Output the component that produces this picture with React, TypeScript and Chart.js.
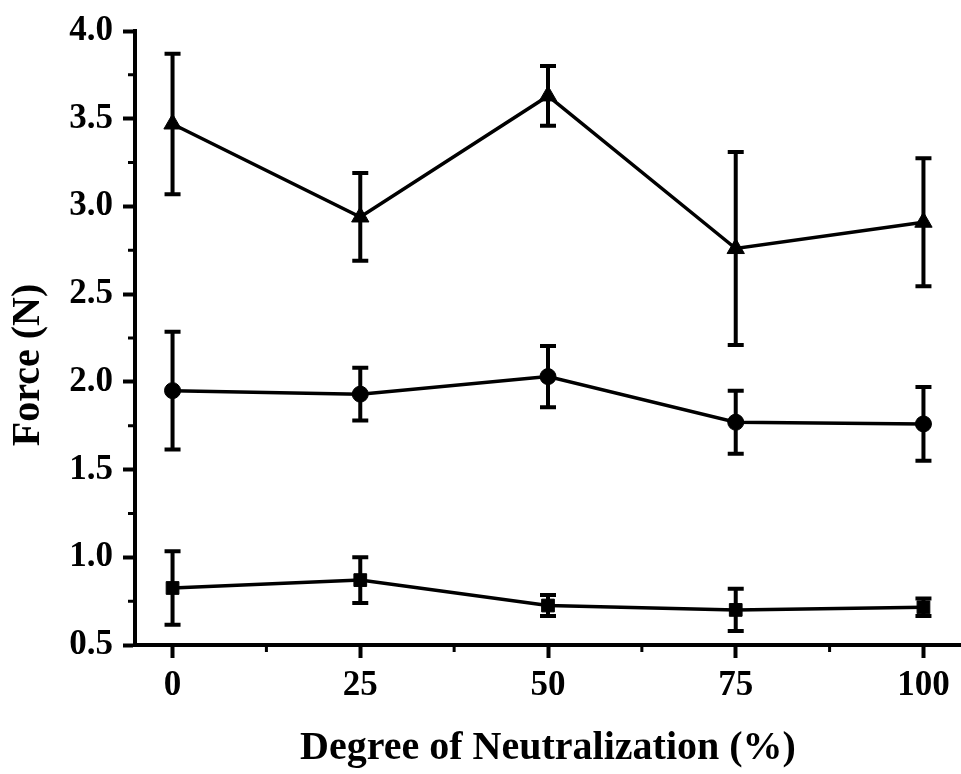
import React, { useEffect, useRef } from "react";
import { Chart, registerables } from "chart.js";

Chart.register(...registerables);

const xValues = [0, 25, 50, 75, 100];
const triangleMean = [3.47, 2.94, 3.63, 2.76, 2.91];
const triangleErr = [0.4, 0.25, 0.17, 0.55, 0.365];
const circleMean = [1.95, 1.93, 2.03, 1.77, 1.76];
const circleErr = [0.335, 0.15, 0.175, 0.18, 0.21];
const squareMean = [0.825, 0.87, 0.725, 0.7, 0.715];
const squareErr = [0.21, 0.13, 0.06, 0.12, 0.05];

const xTicks = [0, 25, 50, 75, 100];
const yTicks = [0.5, 1.0, 1.5, 2.0, 2.5, 3.0, 3.5, 4.0];
const xMinorTicks = [12.5, 37.5, 62.5, 87.5];
const yMinorTicks = [0.75, 1.25, 1.75, 2.25, 2.75, 3.25, 3.75];

const xTitle = "Degree of Neutralization (%)";
const yTitle = "Force (N)";

const FONT = "'Liberation Serif', 'Times New Roman', serif";

const seriesList = [
  { mean: triangleMean, err: triangleErr, style: "triangle", radius: 10 },
  { mean: circleMean, err: circleErr, style: "circle", radius: 8 },
  { mean: squareMean, err: squareErr, style: "rect", radius: 9 },
];

const errorBarPlugin = {
  id: "errorBars",
  beforeDatasetsDraw(chart: any) {
    const { ctx, scales } = chart;
    const xs = scales.x;
    const ys = scales.y;
    ctx.save();
    ctx.strokeStyle = "#000";
    ctx.lineWidth = 4;
    ctx.lineCap = "butt";
    seriesList.forEach((s) => {
      xValues.forEach((xv, i) => {
        const px = xs.getPixelForValue(xv);
        const top = ys.getPixelForValue(s.mean[i] + s.err[i]);
        const bot = ys.getPixelForValue(s.mean[i] - s.err[i]);
        ctx.beginPath();
        ctx.moveTo(px, top);
        ctx.lineTo(px, bot);
        ctx.moveTo(px - 8, top);
        ctx.lineTo(px + 8, top);
        ctx.moveTo(px - 8, bot);
        ctx.lineTo(px + 8, bot);
        ctx.stroke();
      });
    });
    ctx.restore();
  },
  afterDraw(chart: any) {
    const { ctx, scales, chartArea } = chart;
    ctx.save();
    ctx.strokeStyle = "#000";
    ctx.lineWidth = 3;
    ctx.beginPath();
    yMinorTicks.forEach((v) => {
      const py = scales.y.getPixelForValue(v);
      ctx.moveTo(chartArea.left - 7, py);
      ctx.lineTo(chartArea.left, py);
    });
    xMinorTicks.forEach((v) => {
      const px = scales.x.getPixelForValue(v);
      ctx.moveTo(px, chartArea.bottom);
      ctx.lineTo(px, chartArea.bottom + 7);
    });
    ctx.stroke();
    // y axis title
    ctx.translate(28.5, 365);
    ctx.rotate(-Math.PI / 2);
    ctx.fillStyle = "#000";
    ctx.font = `bold 40px ${FONT}`;
    ctx.textAlign = "center";
    ctx.textBaseline = "middle";
    ctx.fillText(yTitle, 0, 0);
    ctx.restore();
  },
};

export default function App() {
  const ref = useRef<HTMLCanvasElement>(null);

  useEffect(() => {
    if (!ref.current) return;
    const chart = new Chart(ref.current, {
      type: "line",
      data: {
        datasets: seriesList.map((s) => ({
          data: xValues.map((x, i) => ({ x, y: s.mean[i] })),
          borderColor: "#000",
          backgroundColor: "#000",
          borderWidth: 3.5,
          pointStyle: s.style as any,
          pointRadius: s.radius,
          pointBackgroundColor: "#000",
          pointBorderColor: "#000",
          pointBorderWidth: 1,
          tension: 0,
          clip: false as any,
        })),
      },
      options: {
        animation: false,
        responsive: false,
        maintainAspectRatio: false,
        layout: { autoPadding: false, padding: { top: 31, right: 0, left: 0, bottom: 0 } },
        plugins: {
          legend: { display: false },
          tooltip: { enabled: false },
        },
        scales: {
          x: {
            type: "linear",
            min: -5,
            max: 105,
            afterBuildTicks: (scale: any) => {
              scale.ticks = xTicks.map((v) => ({ value: v }));
            },
            afterFit: (scale: any) => {
              scale.height = 129;
              scale.paddingRight = 0;
              scale.paddingLeft = 0;
            },
            grid: {
              drawOnChartArea: false,
              drawTicks: true,
              tickLength: 13,
              tickWidth: 4,
              tickColor: "#000",
            },
            border: { display: true, color: "#000", width: 4 },
            ticks: {
              color: "#000",
              padding: 7,
              font: { family: FONT, size: 35, weight: "bold" },
              callback: (v: any) => String(v),
            },
            title: {
              display: true,
              text: xTitle,
              color: "#000",
              font: { family: FONT, size: 40, weight: "bold" },
              padding: { top: 0, bottom: 1 },
            },
          },
          y: {
            type: "linear",
            min: 0.5,
            max: 4.0,
            afterBuildTicks: (scale: any) => {
              scale.ticks = yTicks.map((v) => ({ value: v }));
            },
            afterFit: (scale: any) => {
              scale.width = 135;
            },
            grid: {
              drawOnChartArea: false,
              drawTicks: true,
              tickLength: 12,
              tickWidth: 4,
              tickColor: "#000",
            },
            border: { display: true, color: "#000", width: 4 },
            ticks: {
              color: "#000",
              padding: 10,
              font: { family: FONT, size: 35, weight: "bold" },
              callback: (v: any) => Number(v).toFixed(1),
            },
            title: { display: false },
          },
        },
      },
      plugins: [errorBarPlugin],
    });
    return () => chart.destroy();
  }, []);

  return (
    <div style={{ position: "absolute", left: 0, top: 0, width: 961, height: 774, background: "#fff" }}>
      <canvas ref={ref} width={961} height={774} style={{ display: "block" }} />
    </div>
  );
}
